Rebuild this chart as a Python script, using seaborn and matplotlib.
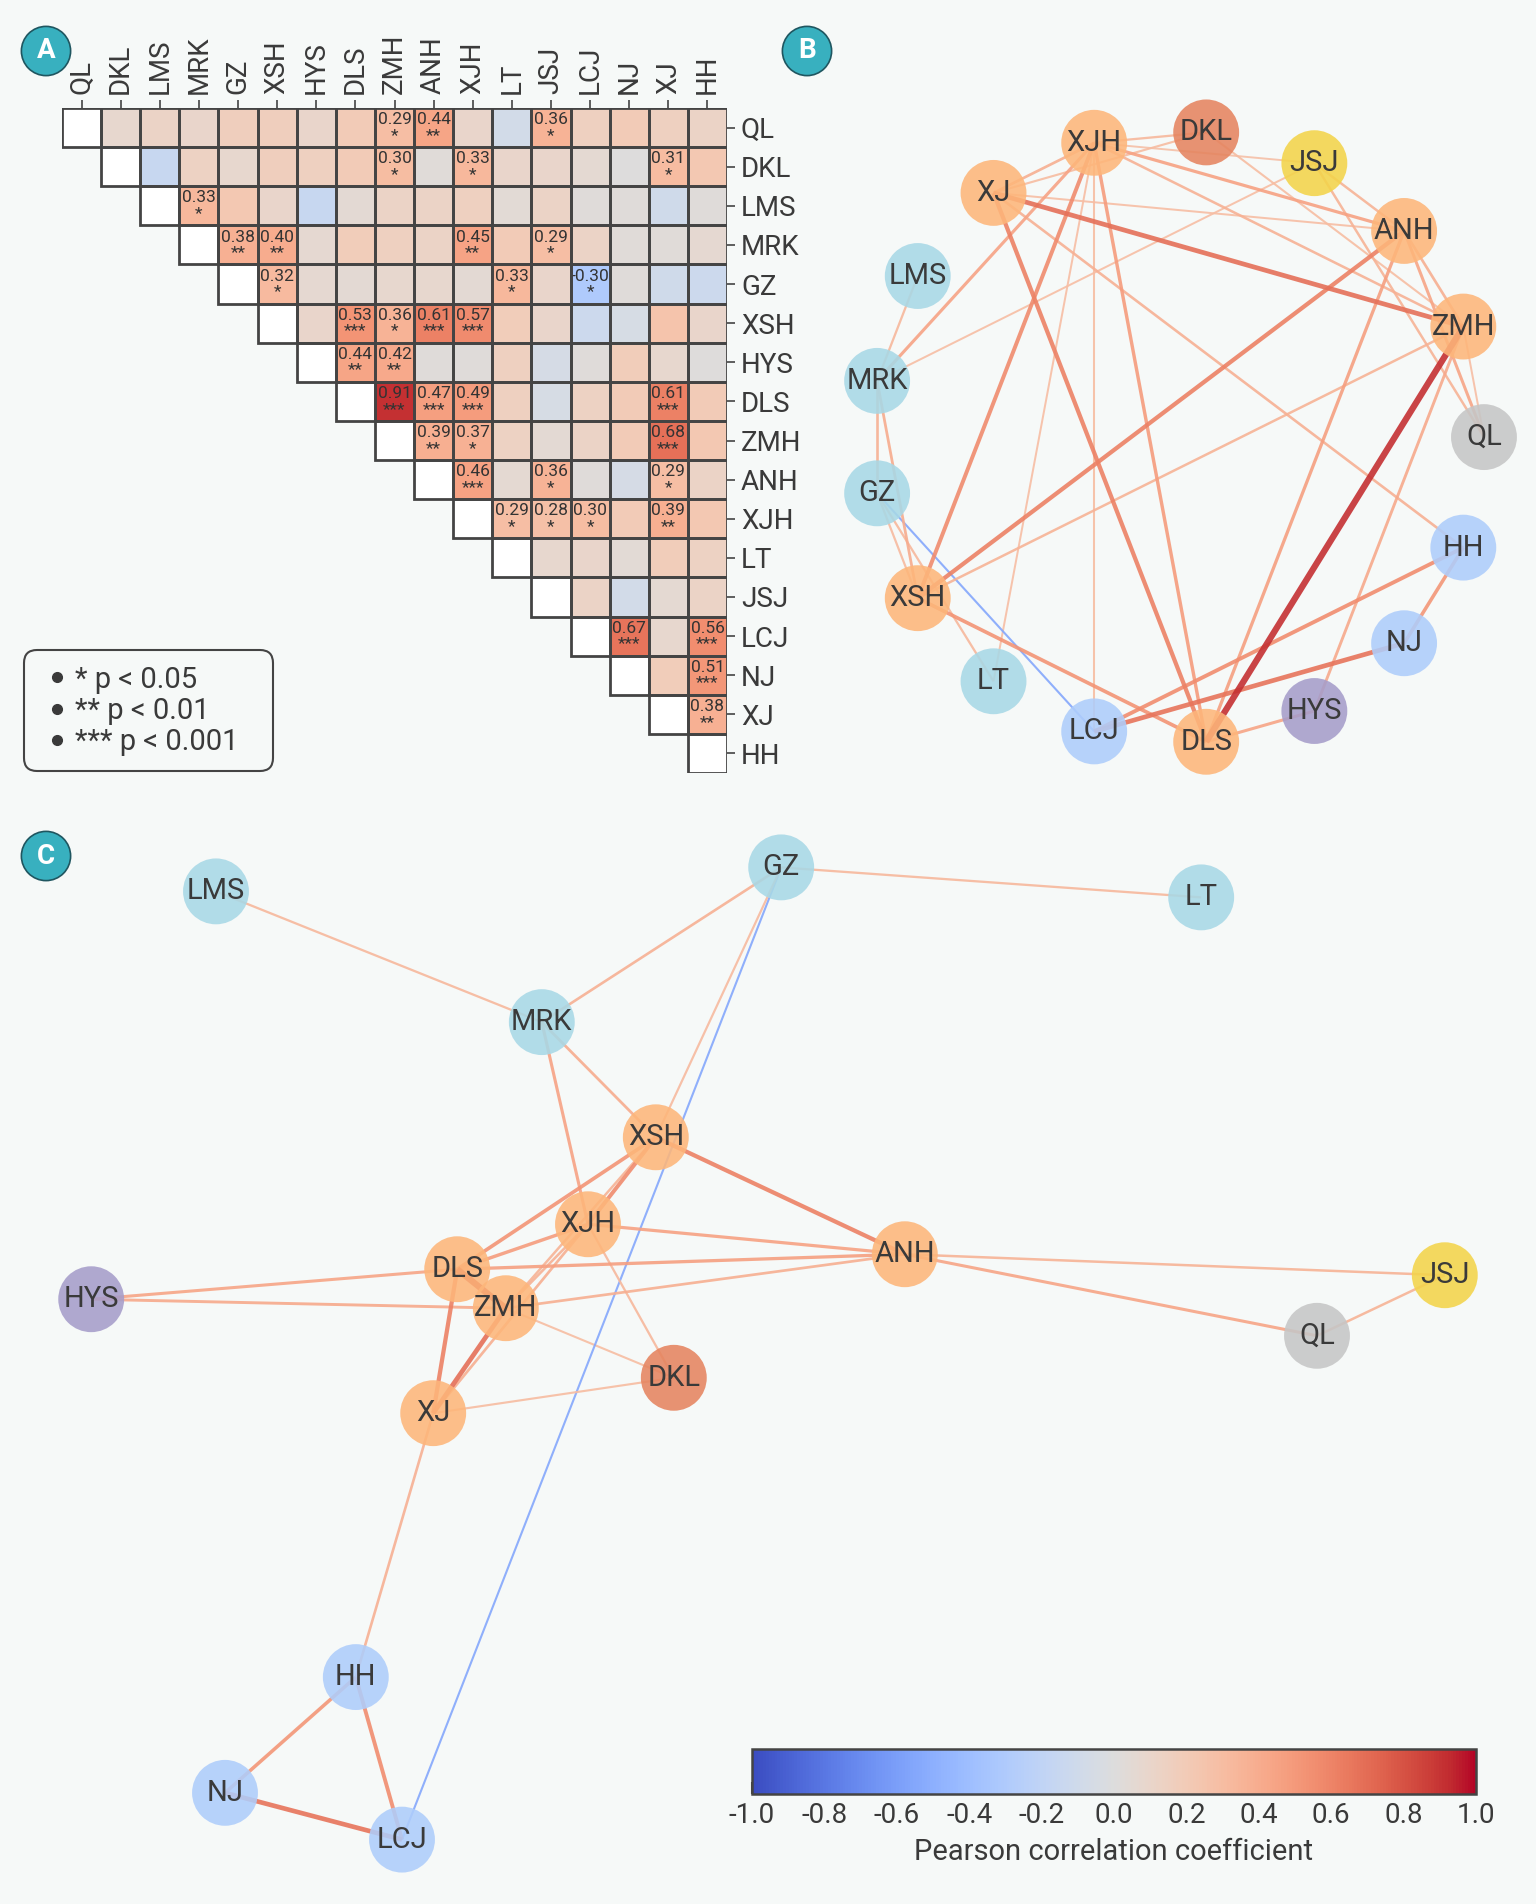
import numpy as np
import pandas as pd
import matplotlib
matplotlib.use("Agg")
import matplotlib.pyplot as plt
import seaborn as sns
from matplotlib.colors import Normalize, TwoSlopeNorm
from matplotlib.lines import Line2D
from matplotlib.patches import Rectangle, FancyBboxPatch
from matplotlib.transforms import IdentityTransform
from matplotlib.cm import ScalarMappable

# sites, in heatmap order
sites = ["QL", "DKL", "LMS", "MRK", "GZ", "XSH", "HYS", "DLS", "ZMH",
         "ANH", "XJH", "LT", "JSJ", "LCJ", "NJ", "XJ", "HH"]

# upper triangle of the Pearson matrix, row i holds columns i+1..n-1
r_upper = [
    [0.08, 0.12, 0.10, 0.17, 0.17, 0.10, 0.20, 0.29, 0.44, 0.10, -0.08, 0.36, 0.15, 0.20, 0.15, 0.12],
    [-0.15, 0.14, 0.08, 0.17, 0.15, 0.20, 0.302, 0.03, 0.33, 0.10, 0.10, 0.06, 0.00, 0.31, 0.22],
    [0.33, 0.22, 0.10, -0.15, 0.05, 0.12, 0.12, 0.15, 0.04, 0.12, 0.02, 0.02, -0.10, 0.02],
    [0.38, 0.40, 0.07, 0.18, 0.15, 0.12, 0.45, 0.20, 0.29, 0.12, 0.03, 0.03, 0.07],
    [0.32, 0.07, 0.05, 0.08, 0.08, 0.05, 0.33, 0.10, -0.303, 0.02, -0.10, -0.12],
    [0.10, 0.53, 0.36, 0.61, 0.57, 0.18, 0.10, -0.12, -0.05, 0.25, 0.10],
    [0.44, 0.42, 0.02, 0.02, 0.15, -0.06, 0.02, 0.18, 0.08, 0.01],
    [0.91, 0.47, 0.49, 0.15, -0.05, 0.14, 0.20, 0.61, 0.20],
    [0.39, 0.37, 0.14, 0.05, 0.12, 0.20, 0.68, 0.22],
    [0.46, 0.06, 0.36, 0.02, -0.06, 0.29, 0.12],
    [0.29, 0.28, 0.297, 0.20, 0.39, 0.22],
    [0.08, 0.10, 0.04, 0.18, 0.14],
    [0.12, -0.08, 0.06, 0.12],
    [0.67, 0.08, 0.56],
    [0.18, 0.51],
    [0.38],
]

# significance level (number of stars), same layout as r_upper
stars_upper = [
    [0, 0, 0, 0, 0, 0, 0, 1, 2, 0, 0, 1, 0, 0, 0, 0],
    [0, 0, 0, 0, 0, 0, 1, 0, 1, 0, 0, 0, 0, 1, 0],
    [1, 0, 0, 0, 0, 0, 0, 0, 0, 0, 0, 0, 0, 0],
    [2, 2, 0, 0, 0, 0, 2, 0, 1, 0, 0, 0, 0],
    [1, 0, 0, 0, 0, 0, 1, 0, 1, 0, 0, 0],
    [0, 3, 1, 3, 3, 0, 0, 0, 0, 0, 0],
    [2, 2, 0, 0, 0, 0, 0, 0, 0, 0],
    [3, 3, 3, 0, 0, 0, 0, 3, 0],
    [2, 1, 0, 0, 0, 0, 3, 0],
    [3, 0, 1, 0, 0, 1, 0],
    [1, 1, 1, 0, 2, 0],
    [0, 0, 0, 0, 0],
    [0, 0, 0, 0],
    [3, 0, 3],
    [0, 3],
    [2],
]

# node groups (colour of each site in the networks)
node_group = ["grey", "red", "teal", "teal", "teal", "orange", "purple", "orange", "orange",
              "orange", "orange", "teal", "yellow", "blue", "blue", "orange", "blue"]
group_colors = {"orange": "#fdb67a", "red": "#e5845f", "yellow": "#f3d44a", "teal": "#a8d8e6",
                "grey": "#c6c6c6", "blue": "#aecdfb", "purple": "#a69dca"}

# order of the sites around the circle in panel B
circle_order = ["QL", "ZMH", "ANH", "JSJ", "DKL", "XJH", "XJ", "LMS", "MRK",
                "GZ", "XSH", "LT", "LCJ", "DLS", "HYS", "NJ", "HH"]

# force-directed layout of panel C (same order as sites)
layout_c_x = [0.915, -0.157, -0.920, -0.377, 0.022, -0.187, -1.128, -0.518, -0.437,
              0.228, -0.300, 0.722, 1.128, -0.610, -0.905, -0.558, -0.687]
layout_c_y = [0.057, -0.013, 0.798, 0.580, 0.838, 0.388, 0.118, 0.168, 0.103,
              0.193, 0.243, 0.788, 0.158, -0.783, -0.705, -0.072, -0.512]

legend_labels = ["* p < 0.05", "** p < 0.01", "*** p < 0.001"]
cbar_ticks = [-1.0, -0.8, -0.6, -0.4, -0.2, 0.0, 0.2, 0.4, 0.6, 0.8, 1.0]

# ---- build matrices ----
n = len(sites)
corr = np.eye(n)
stars = np.zeros((n, n), dtype=int)
for i, (rv, sv) in enumerate(zip(r_upper, stars_upper)):
    corr[i, i + 1:] = rv
    stars[i, i + 1:] = sv
corr = corr + np.triu(corr, 1).T
df = pd.DataFrame(corr, index=sites, columns=sites)

annot = np.array([[f"{corr[i, j]:.2f}\n" + "*" * stars[i, j] if (j > i and stars[i, j] > 0) else ""
                   for j in range(n)] for i in range(n)])

sig_edges = [(i, j) for i in range(n) for j in range(i + 1, n) if stars[i, j] > 0]
strong_edges = [(i, j) for (i, j) in sig_edges if abs(corr[i, j]) >= 0.3]

# ---- style ----
sns.set_theme(style="white")
plt.rcParams["font.family"] = ["Roboto", "DejaVu Sans"]
plt.rcParams["axes.unicode_minus"] = False
BG = "#f6f9f8"
TXT = "#3a3a3a"
LINE = "#444444"
cmap = sns.color_palette("coolwarm", as_cmap=True)
norm = Normalize(vmin=-1, vmax=1)
edge_norm = TwoSlopeNorm(vmin=-0.55, vcenter=0, vmax=1)

W, H = 1536, 1904
fig = plt.figure(figsize=(W / 100, H / 100), dpi=100, facecolor=BG)


def px_axes(x0, y0, x1, y1):
    return fig.add_axes([x0 / W, 1 - y1 / H, (x1 - x0) / W, (y1 - y0) / H])


# ---- panel A: heatmap ----
ax_a = px_axes(62, 108, 727, 773)
ax_a.set_facecolor(BG)
lower = np.tril(np.ones((n, n), dtype=bool))
sns.heatmap(df, mask=lower, cmap=cmap, vmin=-1, vmax=1, annot=annot, fmt="",
            annot_kws=dict(fontsize=12.5, color="#333333", linespacing=1.05),
            linewidths=0, cbar=False, ax=ax_a)
for i in range(n):
    ax_a.add_patch(Rectangle((i, i), 1, 1, facecolor="white", edgecolor="none", zorder=2))
    for j in range(i, n):
        ax_a.add_patch(Rectangle((j, i), 1, 1, fill=False, edgecolor=LINE, lw=2, zorder=3))
ax_a.xaxis.tick_top()
ax_a.yaxis.tick_right()
ax_a.set_xticks(np.arange(n) + 0.5)
ax_a.set_yticks(np.arange(n) + 0.5)
ax_a.set_xticklabels(sites, rotation=90, fontsize=20, color=TXT)
ax_a.set_yticklabels(sites, rotation=0, fontsize=20, color=TXT)
ax_a.tick_params(axis="both", length=6, width=1.2, color=LINE, pad=4)
ax_a.set_xlabel("")
ax_a.set_ylabel("")
for s in ax_a.spines.values():
    s.set_visible(False)

# significance legend in a rounded box
fig.add_artist(FancyBboxPatch((24, H - 771), 249, 121, boxstyle="round,pad=0,rounding_size=13",
                              transform=IdentityTransform(), facecolor=BG, edgecolor=LINE, lw=1.5))
handles = [Line2D([], [], marker="o", ls="", color=TXT, markersize=7) for _ in legend_labels]
leg = fig.legend(handles, legend_labels, loc="center left", bbox_to_anchor=(48 / W, 1 - 711 / H),
                 borderaxespad=0, borderpad=0, frameon=False, fontsize=21, labelcolor=TXT,
                 handletextpad=0.33, labelspacing=0.12, handlelength=0.6)


def draw_network(ax, xs, ys, edges):
    for (i, j) in sorted(edges, key=lambda e: abs(corr[e])):
        r = corr[i, j]
        ax.plot([xs[i], xs[j]], [ys[i], ys[j]], color=cmap(edge_norm(r)), lw=abs(r) * 5,
                alpha=0.9, solid_capstyle="butt", zorder=1)
    ax.scatter(xs, ys, s=2250, c=[group_colors[g] for g in node_group], alpha=0.88,
               edgecolors="none", zorder=2)
    for k, name in enumerate(sites):
        ax.text(xs[k], ys[k], name, ha="center", va="center", fontsize=21, color=TXT, zorder=3)
    ax.axis("off")


# ---- panel B: circular network ----
ax_b = px_axes(800, 80, 1536, 800)
theta = 2 * np.pi * np.arange(n) / n
idx = [circle_order.index(s) for s in sites]
bx = np.cos(theta[idx])
by = np.sin(theta[idx])
draw_network(ax_b, bx, by, sig_edges)
ax_b.set_xlim(-1.235, 1.170)
ax_b.set_ylim(-1.186, 1.167)

# ---- panel C: force layout network ----
ax_c = px_axes(0, 820, 1536, 1890)
draw_network(ax_c, np.array(layout_c_x), np.array(layout_c_y), strong_edges)
ax_c.set_xlim(-1.28, 1.28)
ax_c.set_ylim(-0.867, 0.917)

# ---- colorbar ----
cax = px_axes(752, 1749, 1476, 1794)
cb = fig.colorbar(ScalarMappable(norm=norm, cmap=cmap), cax=cax, orientation="horizontal")
cb.set_ticks(cbar_ticks)
cb.ax.xaxis.set_major_formatter("{x:.1f}")
cb.ax.tick_params(direction="in", length=9, width=1.5, color=LINE, labelsize=20,
                  labelcolor=TXT, pad=6)
cb.outline.set_edgecolor(LINE)
cb.outline.set_linewidth(1.8)
cb.set_label("Pearson correlation coefficient", fontsize=21, color=TXT, labelpad=6)

# ---- panel letters ----
for letter, (x, y) in zip("ABC", [(46, 51), (807, 51), (46, 856)]):
    fig.text(x / W, 1 - y / H, letter, ha="center", va="center", fontsize=20, color="white",
             weight="bold", bbox=dict(boxstyle="circle,pad=0.4", fc="#38b0bf", ec="#1f5660", lw=1.2))

fig.savefig("out.png", dpi=100, facecolor=BG)
